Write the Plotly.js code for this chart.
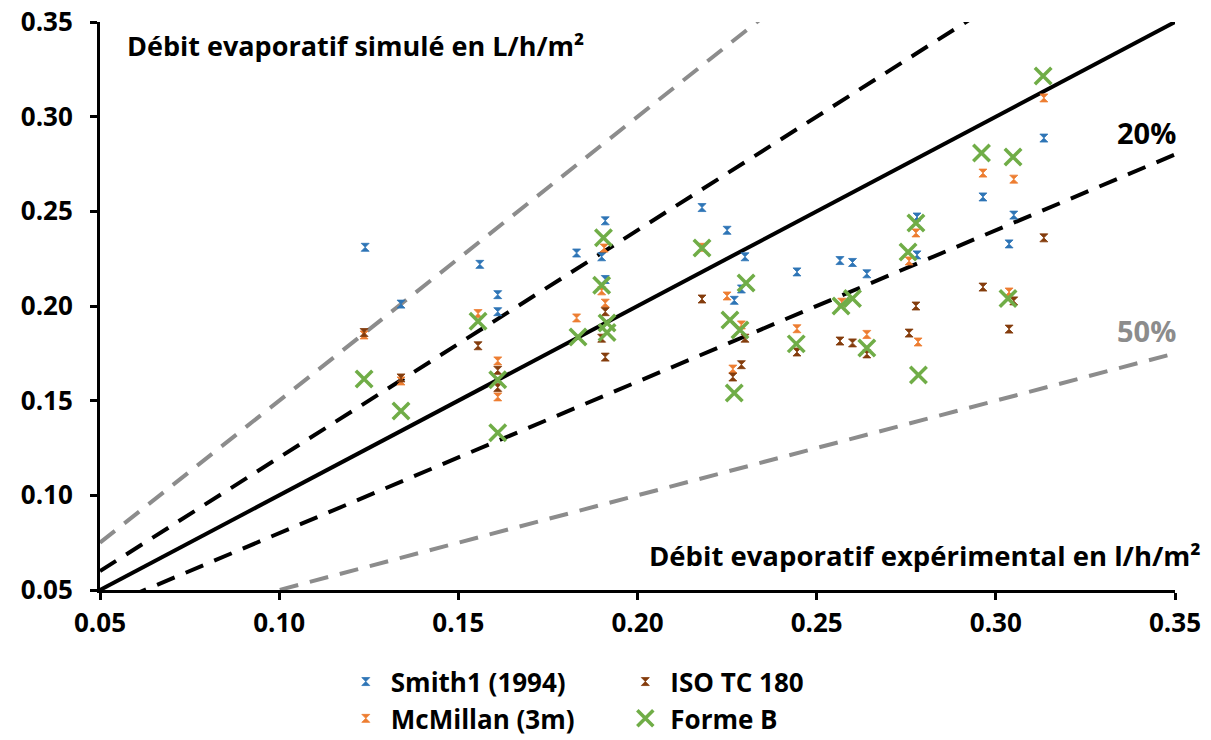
<!DOCTYPE html>
<html>
<head>
<meta charset="utf-8">
<script src="https://cdn.plot.ly/plotly-3.0.1.min.js"></script>
<style>html,body{margin:0;padding:0;background:#fff;}#chart{width:1211px;height:740px;}</style>
</head>
<body>
<div id="chart"></div>
<script>
// ---- Data ----
const smithX = [0.124,0.134,0.156,0.161,0.161,0.183,0.191,0.190,0.191,0.218,0.225,0.230,0.229,0.227,0.2445,0.2565,0.260,0.264,0.278,0.278,0.2964,0.305,0.3037,0.3134];
const smithY = [0.231,0.201,0.222,0.206,0.197,0.228,0.245,0.226,0.214,0.252,0.240,0.226,0.209,0.203,0.218,0.224,0.223,0.217,0.247,0.227,0.2576,0.248,0.2328,0.2887];

const mcmX = [0.1237,0.134,0.1555,0.161,0.161,0.183,0.1907,0.190,0.191,0.218,0.225,0.229,0.2266,0.2445,0.257,0.264,0.2777,0.2758,0.2783,0.2964,0.305,0.3134,0.3037];
const mcmY = [0.1847,0.1604,0.196,0.171,0.152,0.1937,0.2306,0.208,0.2015,0.231,0.2053,0.190,0.1667,0.188,0.202,0.185,0.2386,0.2238,0.181,0.2702,0.267,0.3099,0.2074];

const isoX = [0.1237,0.134,0.1555,0.161,0.161,0.191,0.190,0.191,0.218,0.230,0.2266,0.229,0.2445,0.2565,0.260,0.264,0.2777,0.2758,0.2964,0.305,0.3037,0.3134];
const isoY = [0.186,0.162,0.179,0.166,0.157,0.197,0.183,0.173,0.2037,0.183,0.1625,0.169,0.1757,0.1815,0.1805,0.1747,0.200,0.1857,0.210,0.2027,0.1878,0.236];

const formeX = [0.1237,0.134,0.1555,0.161,0.161,0.1834,0.1905,0.190,0.1915,0.1915,0.218,0.2303,0.2258,0.2286,0.2443,0.227,0.2568,0.260,0.264,0.2777,0.2755,0.2784,0.3132,0.296,0.3048,0.3034];
const formeY = [0.1614,0.1445,0.192,0.161,0.133,0.1836,0.236,0.211,0.191,0.186,0.2306,0.2122,0.1926,0.1873,0.180,0.154,0.200,0.204,0.1778,0.2438,0.2285,0.1636,0.3215,0.2808,0.2787,0.204];

// reference lines y = k * x
const refX = [0.05, 0.35];
const refFactors = [1.5, 1.2, 1.0, 0.8, 0.5];

const seriesNames = ["Smith1 (1994)", "McMillan (3m)", "ISO TC 180", "Forme B"];
const tickVals = [0.05, 0.10, 0.15, 0.20, 0.25, 0.30, 0.35];

// ---- Styles ----
const FONT = "'Open Sans', 'Noto Sans', sans-serif";
const gray = "#8c8c8c";
const lineStyles = {
  1.5: {color: gray, width: 4, dash: "19px,12px"},
  1.2: {color: "#000", width: 4, dash: "19px,12px"},
  1.0: {color: "#000", width: 4, dash: "solid"},
  0.8: {color: "#000", width: 4, dash: "19px,12px"},
  0.5: {color: gray, width: 4, dash: "19px,12px"}
};

const traces = [];
refFactors.forEach(k => {
  traces.push({
    x: refX, y: refX.map(v => v * k), mode: "lines", type: "scatter",
    line: lineStyles[k], showlegend: false, hoverinfo: "skip"
  });
});

const smallMarker = (c) => ({symbol: "hourglass", size: 8, color: c, line: {color: c, width: 0.8}});

traces.push({x: smithX, y: smithY, name: seriesNames[0], mode: "markers", type: "scatter",
  marker: smallMarker("#2E75B6"), legend: "legend", legendgroup: "a"});
traces.push({x: mcmX, y: mcmY, name: seriesNames[1], mode: "markers", type: "scatter",
  marker: smallMarker("#ED7D31"), legend: "legend", legendgroup: "b"});
traces.push({x: isoX, y: isoY, name: seriesNames[2], mode: "markers", type: "scatter",
  marker: smallMarker("#843C0C"), legend: "legend2", legendgroup: "c"});
traces.push({x: formeX, y: formeY, name: seriesNames[3], mode: "markers", type: "scatter",
  marker: {symbol: "x-thin-open", size: 16.5, color: "#70AD47", line: {color: "#70AD47", width: 3.5}},
  legend: "legend2", legendgroup: "d"});

const axisCommon = {
  range: [0.05, 0.35], tickvals: tickVals, tickformat: ".2f",
  showgrid: false, zeroline: false, showline: true,
  linecolor: "#000", linewidth: 3, ticks: "outside", ticklen: 7, tickwidth: 3, tickcolor: "#000",
  tickfont: {family: FONT, size: 26, color: "#000", weight: "bold"},
  fixedrange: true
};

const legendCommon = {
  orientation: "v", xanchor: "left", yanchor: "top",
  font: {family: FONT, size: 26, color: "#000", weight: "bold"},
  bgcolor: "rgba(0,0,0,0)", itemwidth: 40, traceorder: "grouped", tracegroupgap: 0,
  itemclick: false, itemdoubleclick: false
};

const layout = {
  width: 1211, height: 740,
  margin: {l: 100, r: 36, t: 22, b: 150, autoexpand: false},
  paper_bgcolor: "#fff", plot_bgcolor: "#fff",
  xaxis: Object.assign({}, axisCommon, {ticklabelstandoff: 1}),
  yaxis: Object.assign({}, axisCommon, {ticklabelstandoff: 12}),
  showlegend: true,
  legend: Object.assign({}, legendCommon, {x: 0.224, y: -0.12}),
  legend2: Object.assign({}, legendCommon, {x: 0.484, y: -0.12}),
  annotations: [
    {text: "Débit evaporatif simulé en L/h/m²", xref: "paper", yref: "paper", x: 0.023, y: 0.9595,
      xanchor: "left", yanchor: "middle", showarrow: false,
      font: {family: FONT, size: 27, color: "#000", weight: "bold"}},
    {text: "Débit evaporatif expérimental en l/h/m²", xref: "paper", yref: "paper", x: 1.026, y: 0.0616,
      xanchor: "right", yanchor: "middle", showarrow: false,
      font: {family: FONT, size: 27.5, color: "#000", weight: "bold"}},
    {text: "20%", xref: "paper", yref: "paper", x: 1.003, y: 0.806,
      xanchor: "right", yanchor: "middle", showarrow: false,
      font: {family: FONT, size: 29, color: "#000", weight: "bold"}},
    {text: "50%", xref: "paper", yref: "paper", x: 1.003, y: 0.4577,
      xanchor: "right", yanchor: "middle", showarrow: false,
      font: {family: FONT, size: 29, color: gray, weight: "bold"}}
  ]
};

Plotly.newPlot("chart", traces, layout, {displayModeBar: false, staticPlot: false});
</script>
</body>
</html>
